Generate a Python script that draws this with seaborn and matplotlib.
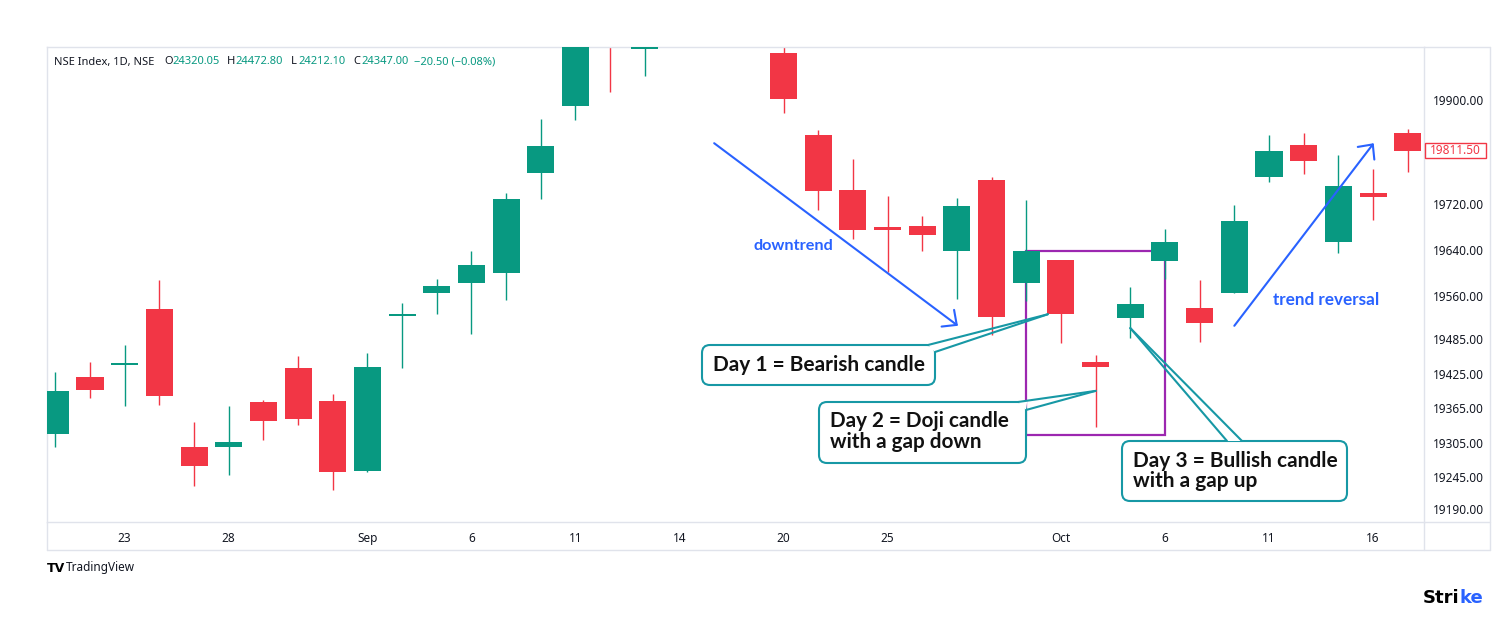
import numpy as np
import pandas as pd
import matplotlib
matplotlib.use("Agg")
import matplotlib.pyplot as plt
import seaborn as sns
from matplotlib.patches import FancyBboxPatch, Polygon, FancyArrowPatch, Rectangle
from matplotlib.lines import Line2D
from matplotlib.transforms import IdentityTransform

# ---------------- data (NSE index, daily) ----------------
dates = ["2023-08-21", "2023-08-22", "2023-08-23", "2023-08-24", "2023-08-25",
         "2023-08-28", "2023-08-29", "2023-08-30", "2023-08-31", "2023-09-01",
         "2023-09-04", "2023-09-05", "2023-09-06", "2023-09-07", "2023-09-08",
         "2023-09-11", "2023-09-12", "2023-09-13", "2023-09-14", "2023-09-15",
         "2023-09-18", "2023-09-20", "2023-09-21", "2023-09-22", "2023-09-25",
         "2023-09-26", "2023-09-27", "2023-09-28", "2023-09-29", "2023-10-03",
         "2023-10-04", "2023-10-05", "2023-10-06", "2023-10-09", "2023-10-10",
         "2023-10-11", "2023-10-12", "2023-10-13", "2023-10-16", "2023-10-17"]
open_ = [19321, 19419, 19440, 19537, 19298, 19298, 19376, 19435, 19377, 19256,
         19525, 19565, 19582, 19600, 19773, 19890, 20110, 19989, 20127, 20156,
         20155, 19981, 19840, 19744, 19679, 19682, 19638, 19761, 19582, 19622,
         19446, 19521, 19621, 19539, 19565, 19767, 19822, 19654, 19738, 19843]
high = [19428, 19445, 19475, 19588, 19341, 19369, 19379, 19456, 19390, 19461,
        19548, 19589, 19638, 19738, 19867, 20008, 20110, 20072, 20167, 20222,
        20195, 20050, 19848, 19798, 19734, 19699, 19730, 19767, 19726, 19623,
        19457, 19576, 19676, 19588, 19717, 19839, 19843, 19805, 19781, 19849]
low = [19298, 19383, 19369, 19370, 19230, 19249, 19310, 19336, 19223, 19255,
       19435, 19528, 19494, 19553, 19728, 19865, 19914, 19942, 20044, 20129,
       20115, 19878, 19709, 19658, 19601, 19637, 19554, 19492, 19551, 19479,
       19333, 19487, 19589, 19480, 19565, 19758, 19772, 19635, 19691, 19775]
close = [19395, 19397, 19444, 19386, 19265, 19306, 19343, 19347, 19254, 19436,
         19529, 19577, 19613, 19728, 19820, 19996, 19993, 20070, 20103, 20192,
         20133, 19901, 19742, 19674, 19674, 19665, 19716, 19524, 19638, 19528,
         19436, 19545, 19653, 19512, 19690, 19811, 19794, 19751, 19731, 19811.5]

ytick_values = [19190, 19245, 19305, 19365, 19425, 19485, 19560, 19640, 19720, 19900]
xtick_dates = ["2023-08-23", "2023-08-28", "2023-09-01", "2023-09-06", "2023-09-11",
               "2023-09-14", "2023-09-20", "2023-09-25", "2023-10-03", "2023-10-06",
               "2023-10-11", "2023-10-16"]
xtick_labels = ["23", "28", "Sep", "6", "11", "14", "20", "25", "Oct", "6", "11", "16"]
last_price = 19811.50

header_parts = [("NSE Index, 1D, NSE", 54, "dark"), ("O", 164, "dark"), ("24320.05", 172, "green"),
                ("H", 227, "dark"), ("24472.80", 235, "green"), ("L", 291, "dark"),
                ("24212.10", 298, "green"), ("C", 353, "dark"), ("24347.00", 361, "green"),
                ("\u221220.50 (\u22120.08%)", 414, "green")]

# ---------------- style ----------------
GREEN = "#089981"
RED = "#F23645"
BLUE = "#2962FF"
TEAL = "#1798A5"
PURPLE = "#9C27B0"
GRID = "#E0E3EB"
DARK = "#131722"

sns.set_theme(style="white", rc={"axes.edgecolor": GRID, "axes.linewidth": 1.0})
plt.rcParams['font.family'] = ['Noto Sans', 'DejaVu Sans']

W, H = 1500, 620
fig = plt.figure(figsize=(W / 100, H / 100), dpi=100)
fig.patch.set_facecolor("white")
ax = fig.add_axes([47 / W, (H - 522) / H, (1424 - 47) / W, (522 - 47) / H])

df = pd.DataFrame({"date": pd.to_datetime(dates), "open": open_, "high": high,
                   "low": low, "close": close})
df["idx"] = np.arange(len(df))
df["up"] = df["close"] >= df["open"]
df["color"] = np.where(df["up"], GREEN, RED)
df["body_lo"] = df[["open", "close"]].min(axis=1)
df["body_h"] = (df["close"] - df["open"]).abs().clip(lower=4)

ax.set_xlim(-0.24, 39.47)
ax.set_ylim(19167.4, 19992)

# wicks and bodies
ax.vlines(df["idx"], df["low"], df["high"], colors=df["color"], lw=1.0, zorder=2)
ax.bar(df["idx"], df["body_h"], bottom=df["body_lo"], width=0.78,
       color=df["color"], linewidth=0, zorder=3)

# axes formatting
pos = {d: i for d, i in zip(df["date"], df["idx"])}
ax.set_xticks([pos[pd.Timestamp(d)] for d in xtick_dates])
ax.set_xticklabels(xtick_labels)
for lab in ax.get_xticklabels():
    if lab.get_text() in ("Sep", "Oct"):
        lab.set_fontweight("semibold")
ax.set_yticks(ytick_values)
ax.set_yticklabels([f"{v:.2f}" for v in ytick_values])
ax.yaxis.tick_right()
ax.tick_params(axis="y", length=0, pad=6.5, labelsize=8.5, labelcolor=DARK)
ax.tick_params(axis="x", length=0, pad=7, labelsize=8.5, labelcolor=DARK)
ax.grid(False)
for s in ax.spines.values():
    s.set_color(GRID)
    s.set_linewidth(1.0)
    s.set_visible(True)

# outer frame (price scale + time scale)
def fline(xs, ys):
    fig.add_artist(Line2D(xs, [H - y for y in ys], transform=IdentityTransform(),
                          color=GRID, lw=1.0))

fline([1424, 1490], [47, 47])
fline([1490, 1490], [47, 550])
fline([1424, 1490], [522, 522])
fline([47, 1490], [550, 550])
fline([47, 47], [522, 550])
fline([1424, 1424], [522, 550])

# purple box around the 3-day pattern
rect = Rectangle((28, low[30] - 15), 4, close[28] - (low[30] - 15), fill=False,
                 ec=PURPLE, lw=1.6, zorder=1)
ax.add_patch(rect)

# trend arrows
for a, b in [((19, 19825), (26.03, 19508)), ((34, 19508), (38.02, 19825))]:
    ax.add_patch(FancyArrowPatch(a, b, arrowstyle="->,head_length=0.8,head_width=0.75",
                                 mutation_scale=10, color=BLUE, lw=1.5,
                                 shrinkA=0, shrinkB=0, zorder=4))

fig.canvas.draw()
renderer = fig.canvas.get_renderer()


def fit(t, target):
    for _ in range(3):
        w = t.get_window_extent(renderer).width
        t.set_fontsize(t.get_fontsize() * target / w)


t1 = ax.text(21.27, 19646, "downtrend", color=BLUE, fontfamily="Lato",
             fontweight="bold", fontsize=11, ha="center", va="center", zorder=4)
t2 = ax.text(36.64, 19552, "trend reversal", color=BLUE, fontfamily="Lato",
             fontweight="bold", fontsize=11, ha="center", va="center", zorder=4)
fit(t1, 80)
fit(t2, 106)

# callouts
callouts = [
    ("Day 1 = Bearish candle", (702, 345, 935, 385), (928, 345), (935, 352),
     (29 - 0.38, close[29]), 713, 365, 211),
    ("Day 2 = Doji candle\nwith a gap down", (819, 402, 1026, 463), (1018, 402), (1026, 410),
     (30, 19395), 830, 431.5, 179),
    ("Day 3 = Bullish candle\nwith a gap up", (1122, 441, 1347, 501), (1227, 441), (1242, 441),
     (31, 19504), 1133, 471, 204),
]
for text, box, b1, b2, tip, tx, ty, tw in callouts:
    x0, y0, x1, y1 = box
    fig.add_artist(FancyBboxPatch((x0, H - y1), x1 - x0, y1 - y0,
                                  boxstyle="round,pad=0,rounding_size=8",
                                  transform=IdentityTransform(), fc="white",
                                  ec=TEAL, lw=1.5, zorder=5))
    px, py = ax.transData.transform(tip)
    mx = b1[0] + (px - b1[0]) * 0.12
    my = (H - b1[1]) + (py - (H - b1[1])) * 0.12
    fig.add_artist(Polygon([(b1[0], H - b1[1]), (b2[0], H - b2[1]), (mx, my)],
                           closed=True, transform=IdentityTransform(), fc="white",
                           ec="none", zorder=6))
    for bx, by in (b1, b2):
        fig.add_artist(Line2D([bx, px], [H - by, py], transform=IdentityTransform(),
                              color=TEAL, lw=1.5, zorder=6))
    first = text.split("\n")[0]
    probe = fig.text(0, 0, first, fontfamily="Lato", fontweight="bold", fontsize=14)
    fit(probe, tw)
    fs = probe.get_fontsize()
    probe.remove()
    fig.text(tx, H - ty, text, transform=IdentityTransform(), fontfamily="Lato",
             fontweight="bold", fontsize=fs, color="#111111", ha="left", va="center",
             linespacing=1.05, zorder=7)

# last price label
_, yc = ax.transData.transform((0, last_price))
fig.add_artist(Rectangle((1425, yc - 7.5), 61, 15, transform=IdentityTransform(),
                         fc="white", ec=RED, lw=1.0, zorder=5))
fig.text(1455.5, yc, f"{last_price:.2f}", transform=IdentityTransform(), color=RED,
         fontsize=8.5, ha="center", va="center", zorder=6)

# header legend
for txt, x, col in header_parts:
    fig.text(x, H - 62, txt, transform=IdentityTransform(),
             color=GREEN if col == "green" else DARK, fontsize=8, ha="left", va="center")

# branding
fig.text(47, H - 568, "TV", transform=IdentityTransform(), fontsize=9, fontweight="heavy",
         color="black", ha="left", va="center", fontfamily="DejaVu Sans")
fig.text(66, H - 568, "TradingView", transform=IdentityTransform(), fontsize=8.5,
         color="#131722", ha="left", va="center")
brand_kw = dict(transform=IdentityTransform(), fontsize=13, fontweight="bold",
                va="center", fontfamily="DejaVu Sans")
full = fig.text(1483, H - 598, "Strike", ha="right", **brand_kw)
fx0 = full.get_window_extent(renderer).x0
full.remove()
fig.text(fx0, H - 598, "Stri", ha="left", color="black", **brand_kw)
fig.text(1483, H - 598, "ke", ha="right", color=BLUE, **brand_kw)

fig.savefig("out.png", dpi=100, facecolor="white")
